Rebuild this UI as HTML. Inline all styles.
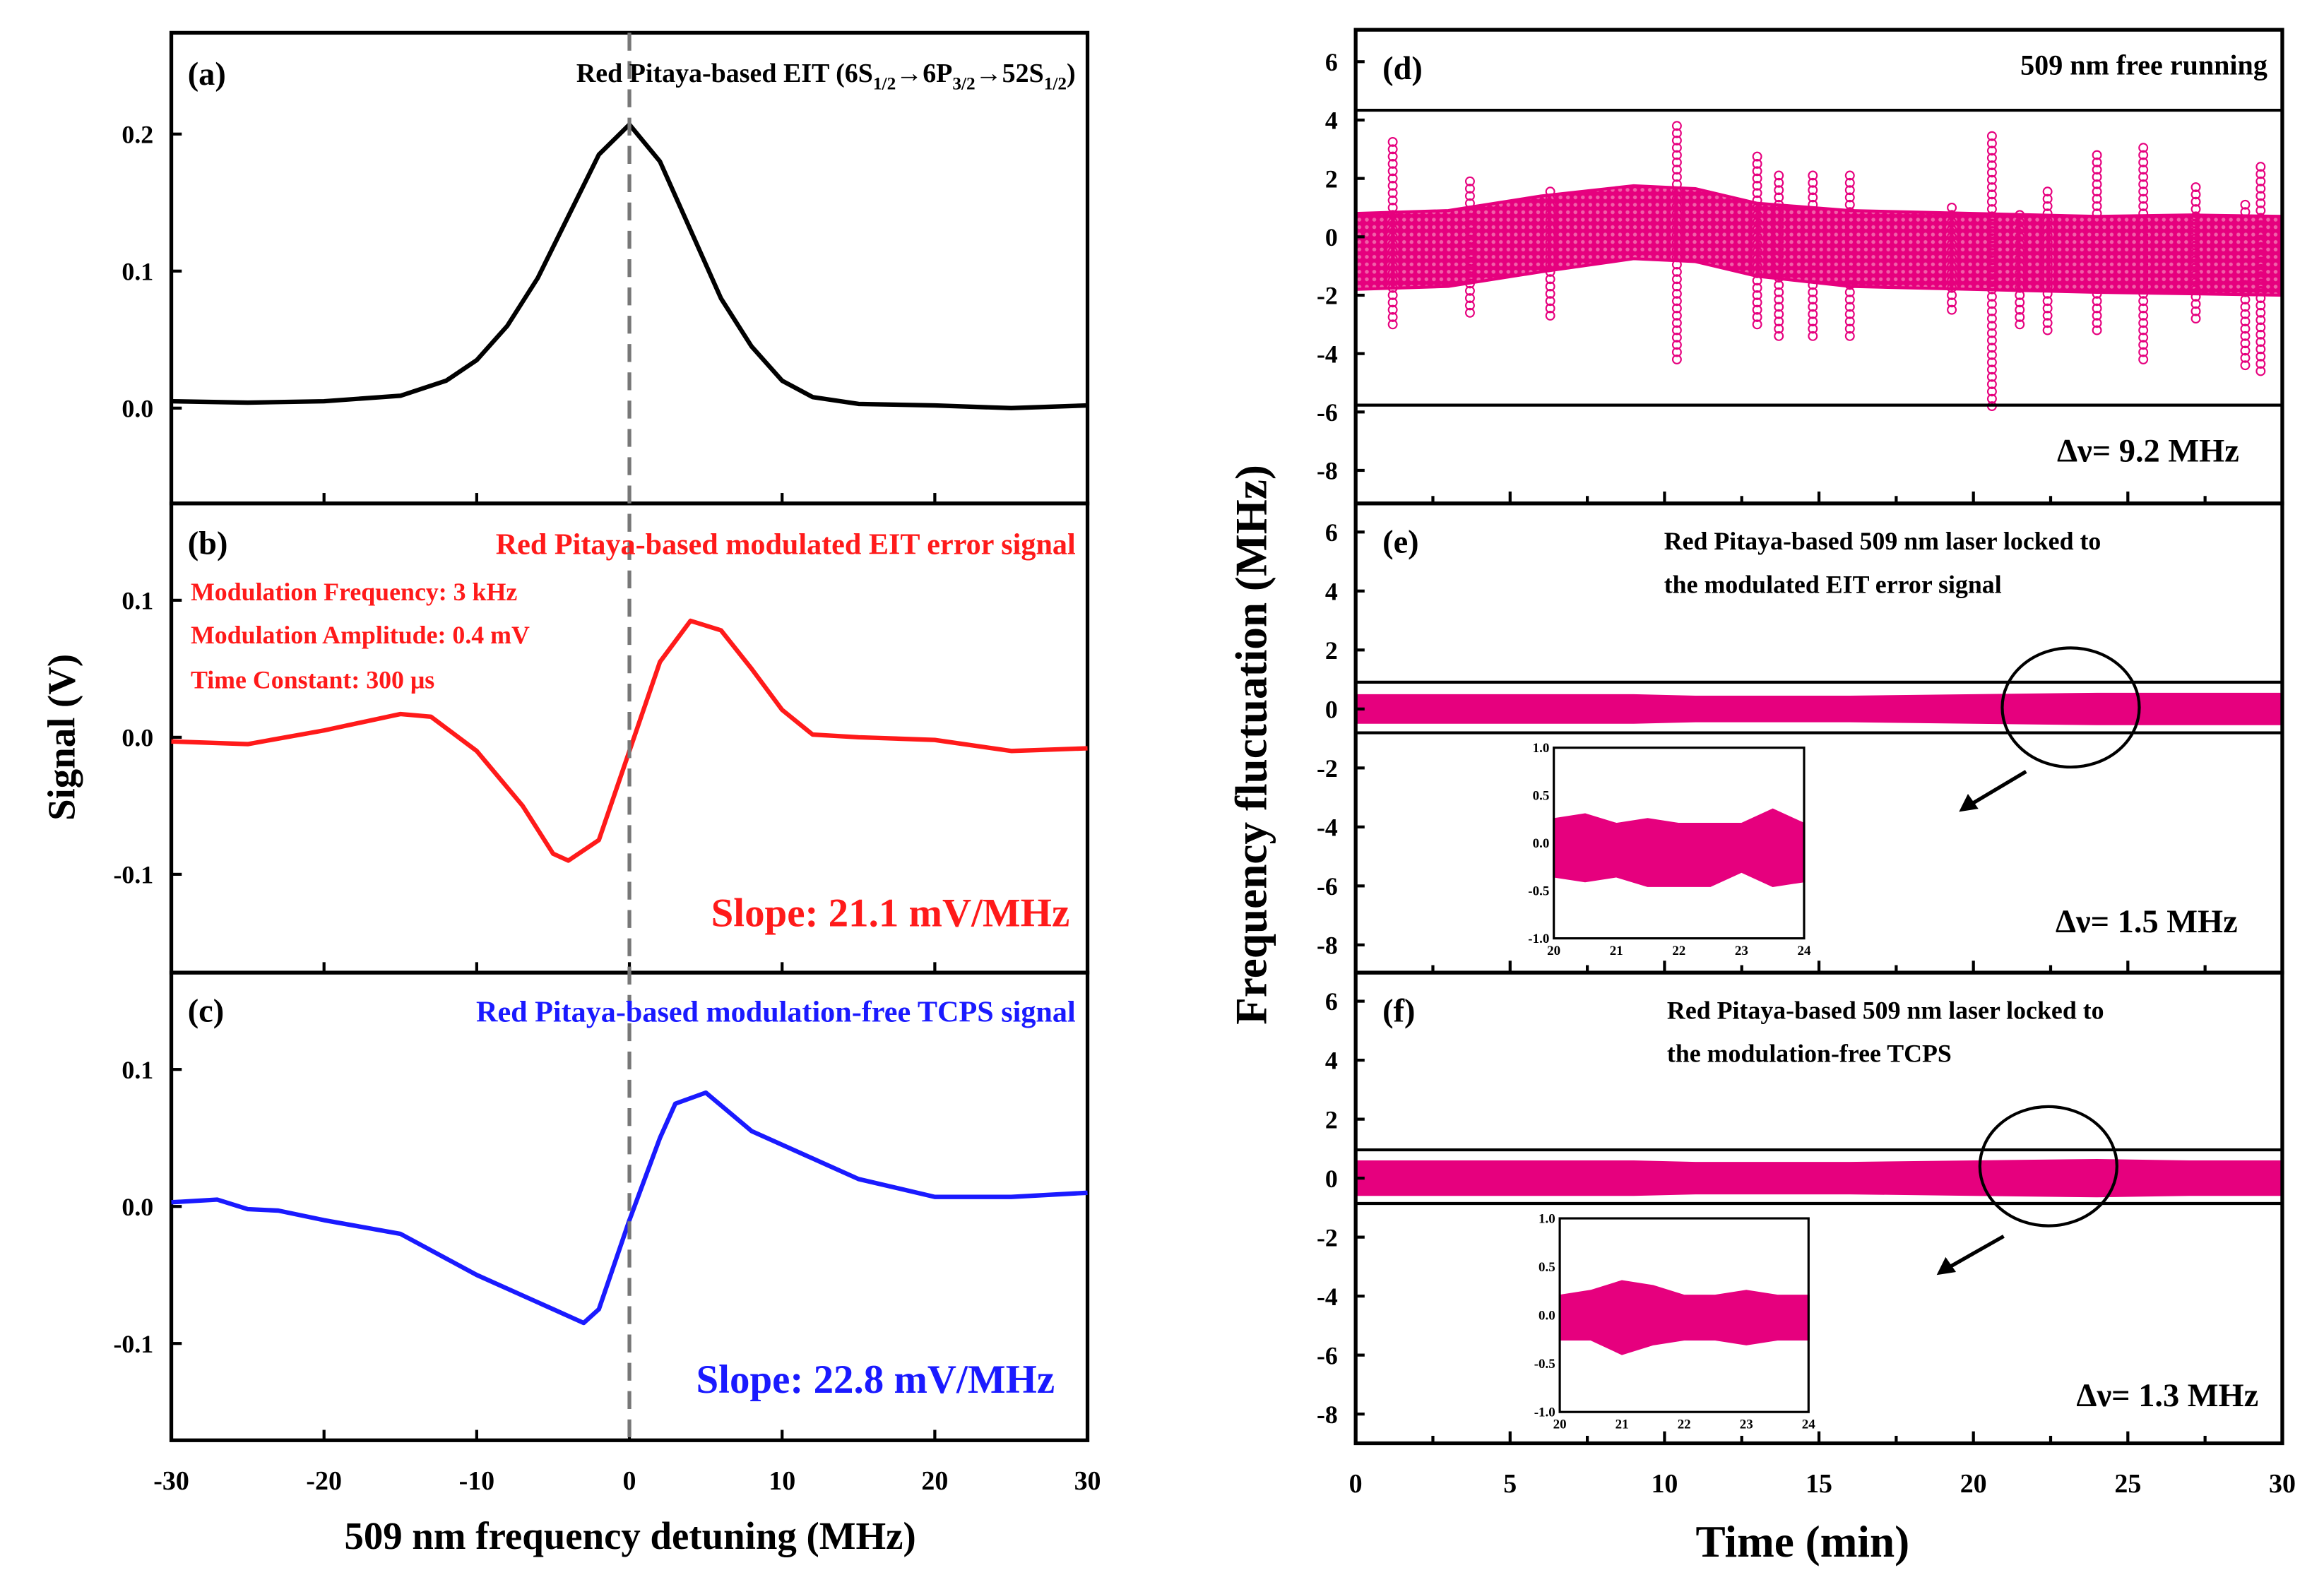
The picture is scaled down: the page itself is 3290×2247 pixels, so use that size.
<!DOCTYPE html>
<html><head><meta charset="utf-8">
<style>
html,body{margin:0;padding:0;background:#fff;}
svg{display:block;}
text{font-family:"Liberation Serif",serif;font-weight:bold;}
</style></head>
<body>
<svg id="fig" width="3290" height="2247" viewBox="0 0 1560 1065.5" preserveAspectRatio="none" xmlns="http://www.w3.org/2000/svg">
<defs>
<pattern id="circ" width="5" height="5" patternUnits="userSpaceOnUse">
<rect width="5" height="5" fill="#e6007e"/>
<circle cx="2.5" cy="2.5" r="1.3" fill="#f060a8"/>
</pattern>
</defs>
<g id="left"></g>
<g id="right"></g>
</svg>
<script>
// ---- Left chart data ----
const detA = [-30,-25,-20,-15,-12,-10,-8,-6,-4,-2,0,2,4,6,8,10,12,15,20,25,30];
const sigA = [0.005,0.004,0.005,0.009,0.02,0.035,0.06,0.095,0.14,0.185,0.207,0.18,0.13,0.08,0.045,0.02,0.008,0.003,0.002,0.0,0.002];
const detB = [-30,-25,-20,-15,-13,-10,-7,-5,-4,-2,0,2,4,6,8,10,12,15,20,25,30];
const sigB = [-0.003,-0.005,0.005,0.017,0.015,-0.01,-0.05,-0.085,-0.09,-0.075,-0.01,0.055,0.085,0.078,0.05,0.02,0.002,0.0,-0.002,-0.01,-0.008];
const detC = [-30,-27,-25,-23,-20,-15,-10,-5,-3,-2,0,2,3,5,8,12,15,20,25,30];
const sigC = [0.003,0.005,-0.002,-0.003,-0.01,-0.02,-0.05,-0.075,-0.085,-0.075,-0.01,0.05,0.075,0.083,0.055,0.035,0.02,0.007,0.007,0.01];
const xTicksL = [-30,-20,-10,0,10,20,30];
const yTicksA = [0.0,0.1,0.2];
const yTicksBC = [-0.1,0.0,0.1];
// ---- Right chart data ----
const timeKnots = [0,3,6,9,11,13,16,20,24,27,30];
const centerD = [-0.5,-0.4,0.1,0.5,0.4,-0.1,-0.4,-0.5,-0.6,-0.6,-0.65];
const halfD = [1.3,1.3,1.3,1.25,1.25,1.25,1.3,1.3,1.3,1.35,1.35];
const spikeT = [1.2,3.7,6.3,10.4,13.0,13.7,14.8,16.0,19.3,20.6,21.5,22.4,24.0,25.5,27.2,28.8,29.3];
const spikeHi = [3.4,1.9,1.6,3.8,2.9,2.3,2.1,2.1,1.0,3.6,0.9,1.7,2.9,3.1,1.8,1.3,2.6];
const spikeLo = [-3.0,-2.6,-2.7,-4.2,-3.0,-3.4,-3.4,-3.4,-2.5,-5.8,-3.0,-3.2,-3.2,-4.2,-2.8,-4.4,-4.6];
const halfE = [0.45,0.45,0.45,0.45,0.4,0.4,0.4,0.45,0.5,0.5,0.5];
const halfF = [0.55,0.55,0.55,0.55,0.5,0.5,0.5,0.55,0.6,0.55,0.55];
const xTicksR = [0,5,10,15,20,25,30];
const yTicksR = [-8,-6,-4,-2,0,2,4,6];
const insetT = [20,20.5,21,21.5,22,22.5,23,23.5,24];
const insetHiE = [0.25,0.3,0.2,0.25,0.2,0.2,0.2,0.35,0.2];
const insetLoE = [-0.35,-0.4,-0.35,-0.45,-0.45,-0.45,-0.3,-0.45,-0.4];
const insetHiF = [0.2,0.25,0.35,0.3,0.2,0.2,0.25,0.2,0.2];
const insetLoF = [-0.25,-0.25,-0.4,-0.3,-0.25,-0.25,-0.3,-0.25,-0.25];
const insetXT = [20,21,22,23,24];
const insetYT = [-1.0,-0.5,0.0,0.5,1.0];

const NS="http://www.w3.org/2000/svg";
function mk(parent,tag,attrs,txt){const e=document.createElementNS(NS,tag);for(const k in attrs)e.setAttribute(k,attrs[k]);if(txt!==undefined)e.textContent=txt;parent.appendChild(e);return e;}
const L=document.getElementById('left'), R=document.getElementById('right');

// Left axes
const lx0=115,lx1=730;
const xL=v=>lx0+(v+30)/60*(lx1-lx0);
const panelsL=[{top:22,bot:338,zero:274,data:[detA,sigA],col:'#000',ticks:yTicksA},
 {top:338,bot:653,zero:495,data:[detB,sigB],col:'#ff1a1a',ticks:yTicksBC},
 {top:653,bot:967,zero:810,data:[detC,sigC],col:'#1a1aff',ticks:yTicksBC}];
panelsL.forEach((p,i)=>{
  const y=v=>p.zero-v*920;
  let r=mk(L,'rect',{x:lx0,y:p.top,width:lx1-lx0,height:p.bot-p.top,fill:'none',stroke:'#000','stroke-width':2.5});
  
  p.ticks.forEach(t=>{
    let tk=mk(L,'line',{x1:lx0,x2:lx0+7,y1:y(t),y2:y(t),stroke:'#000','stroke-width':2});
    
    let tl=mk(L,'text',{x:lx0-12,y:y(t)+6,'text-anchor':'end','font-size':17},t.toFixed(1));
    
  });
  xTicksL.forEach(t=>{
    let tk=mk(L,'line',{x1:xL(t),x2:xL(t),y1:p.bot,y2:p.bot-7,stroke:'#000','stroke-width':2});
    
  });
  const pts=p.data[0].map((d,k)=>xL(d).toFixed(1)+','+y(p.data[1][k]).toFixed(1)).join(' ');
  let pl=mk(L,'polyline',{points:pts,fill:'none',stroke:p.col,'stroke-width':3,'stroke-linejoin':'round'});
  
});
let dl=mk(L,'line',{x1:xL(0),x2:xL(0),y1:22,y2:967,stroke:'#777','stroke-width':2.5,'stroke-dasharray':'12,7'});

xTicksL.forEach(t=>{let tl=mk(L,'text',{x:xL(t),y:1000,'text-anchor':'middle','font-size':18},String(t));
 });
function lt(par,name,x,y,s,fill,txt,anchor){let e=mk(par,'text',{x:x,y:y,'font-size':s,fill:fill,'text-anchor':anchor||'start'},txt);return e;}
lt(L,'x-axis-title',423,1040,26,'#000','509 nm frequency detuning (MHz)','middle');
let yt=lt(L,'y-axis-title',0,0,26,'#000','Signal (V)','middle');yt.setAttribute('transform','translate(50,495) rotate(-90)');
lt(L,'label-a',126,57,22,'#000','(a)');
let ta=mk(L,'text',{x:722,y:55,'font-size':18,'text-anchor':'end'});
ta.innerHTML='Red Pitaya-based EIT (6S<tspan font-size="12" dy="5">1/2</tspan><tspan dy="-5">→6P</tspan><tspan font-size="12" dy="5">3/2</tspan><tspan dy="-5">→52S</tspan><tspan font-size="12" dy="5">1/2</tspan><tspan dy="-5">)</tspan>';
lt(L,'label-b',126,372,22,'#000','(b)');
lt(L,'title-b',722,372,20,'#ff1a1a','Red Pitaya-based modulated EIT error signal','end');
lt(L,'mod-frequency',128,403,17,'#ff1a1a','Modulation Frequency: 3 kHz');
lt(L,'mod-amplitude',128,432,17,'#ff1a1a','Modulation Amplitude: 0.4 mV');
lt(L,'time-constant',128,462,17,'#ff1a1a','Time Constant: 300 μs');
lt(L,'slope-b',718,622,27,'#ff1a1a','Slope: 21.1 mV/MHz','end');
lt(L,'label-c',126,686,22,'#000','(c)');
lt(L,'title-c',722,686,20,'#1a1aff','Red Pitaya-based modulation-free TCPS signal','end');
lt(L,'slope-c',708,935,27,'#1a1aff','Slope: 22.8 mV/MHz','end');

// Right axes
const rx0=910,rx1=1532;
const xR=t=>rx0+t/30*(rx1-rx0);
function interp(arr,t){for(let k=0;k<timeKnots.length-1;k++){if(t<=timeKnots[k+1]){const f=(t-timeKnots[k])/(timeKnots[k+1]-timeKnots[k]);return arr[k]+f*(arr[k+1]-arr[k]);}}return arr[arr.length-1];}
const panelsR=[{top:20,bot:338,zero:159,s:19.6,lines:[74,272],center:centerD,half:halfD,lab:'(d)'},
 {top:338,bot:653,zero:476,s:19.8,lines:[458,492],center:null,half:halfE,lab:'(e)'},
 {top:653,bot:969,zero:791,s:19.8,lines:[772,808],center:null,half:halfF,lab:'(f)'}];
panelsR.forEach((p,i)=>{
  const y=v=>p.zero-v*p.s;
  const c=t=>p.center?interp(p.center,t):0;
  let up=[],lo=[];
  for(let k=0;k<timeKnots.length;k++){const t=timeKnots[k];up.push(xR(t)+','+y(c(t)+p.half[k]));lo.unshift(xR(t)+','+y(c(t)-p.half[k]));}
  let band=mk(R,'polygon',{points:up.concat(lo).join(' '),fill:i==0?'url(#circ)':'#e6007e',stroke:'#e6007e','stroke-width':2});
  
  if(i==0){spikeT.forEach((t,k)=>{
    for(let v=spikeLo[k];v<=spikeHi[k];v+=0.25){let ci=mk(R,'circle',{cx:xR(t),cy:y(v),r:2.8,fill:'none',stroke:'#e6007e','stroke-width':1});
      }
  });}
  p.lines.forEach(yy=>{let hl=mk(R,'line',{x1:rx0,x2:rx1,y1:yy,y2:yy,stroke:'#000','stroke-width':2});});
  let r=mk(R,'rect',{x:rx0,y:p.top,width:rx1-rx0,height:p.bot-p.top,fill:'none',stroke:'#000','stroke-width':2.5});
  
  yTicksR.forEach(t=>{
    let tk=mk(R,'line',{x1:rx0,x2:rx0+6,y1:y(t),y2:y(t),stroke:'#000','stroke-width':2});
    let tl=mk(R,'text',{x:rx0-12,y:y(t)+6,'text-anchor':'end','font-size':17},String(t));
  });
  for(let t=0;t<=30;t+=2.5){let tk=mk(R,'line',{x1:xR(t),x2:xR(t),y1:p.bot,y2:p.bot-(t%5==0?8:5),stroke:'#000','stroke-width':2});}
  lt(R,'label-'+'def'[i],928,p.top+33,22,'#000',p.lab);
});
xTicksR.forEach(t=>lt(R,'x-tick-label',xR(t),1002,18,'#000',String(t),'middle'));
lt(R,'x-axis-title',1210,1045,30,'#000','Time (min)','middle');
let yr=lt(R,'y-axis-title',0,0,30,'#000','Frequency fluctuation (MHz)','middle');yr.setAttribute('transform','translate(850,500) rotate(-90)');
lt(R,'title-d',1522,50,19,'#000','509 nm free running','end');
lt(R,'linewidth-d',1503,310,22,'#000','Δν= 9.2 MHz','end');
lt(R,'title-e-1',1117,369,17,'#000','Red Pitaya-based 509 nm laser locked to');
lt(R,'title-e-2',1117,398,17,'#000','the modulated EIT error signal');
lt(R,'linewidth-e',1502,626,22,'#000','Δν= 1.5 MHz','end');
lt(R,'title-f-1',1119,684,17,'#000','Red Pitaya-based 509 nm laser locked to');
lt(R,'title-f-2',1119,713,17,'#000','the modulation-free TCPS');
lt(R,'linewidth-f',1516,944,22,'#000','Δν= 1.3 MHz','end');
// circles and arrows
[[1390,475,1360,518,1315,545],[1375,783,1345,830,1300,856]].forEach((a,i)=>{
  let e=mk(R,'ellipse',{cx:a[0],cy:a[1],rx:46,ry:40,fill:'none',stroke:'#000','stroke-width':2});
  let l=mk(R,'line',{x1:a[2],y1:a[3],x2:a[4]+8,y2:a[5]-5,stroke:'#000','stroke-width':2.5});
  let h=mk(R,'polygon',{points:`${a[4]},${a[5]} ${a[4]+6},${a[5]-12} ${a[4]+13},${a[5]-2}`,fill:'#000'});
});
// insets
[{x0:1043,x1:1211,y0:502,y1:630,hi:insetHiE,lo:insetLoE},{x0:1047,x1:1214,y0:818,y1:948,hi:insetHiF,lo:insetLoF}].forEach((b,i)=>{
  const ix=t=>b.x0+(t-20)/4*(b.x1-b.x0), iy=v=>b.y1-(v+1)/2*(b.y1-b.y0);
  let up=insetT.map((t,k)=>ix(t)+','+iy(b.hi[k])), lo=insetT.map((t,k)=>ix(t)+','+iy(b.lo[k])).reverse();
  let bd=mk(R,'polygon',{points:up.concat(lo).join(' '),fill:'#e6007e',stroke:'#e6007e','stroke-width':1.5});
  let fr=mk(R,'rect',{x:b.x0,y:b.y0,width:b.x1-b.x0,height:b.y1-b.y0,fill:'none',stroke:'#000','stroke-width':1.5});
  insetXT.forEach(t=>lt(R,'inset-x-label',ix(t),b.y1+11,9,'#000',String(t),'middle'));
  insetYT.forEach(v=>lt(R,'inset-y-label',b.x0-3,iy(v)+3,9,'#000',v.toFixed(1),'end'));
});
</script>
</body></html>
